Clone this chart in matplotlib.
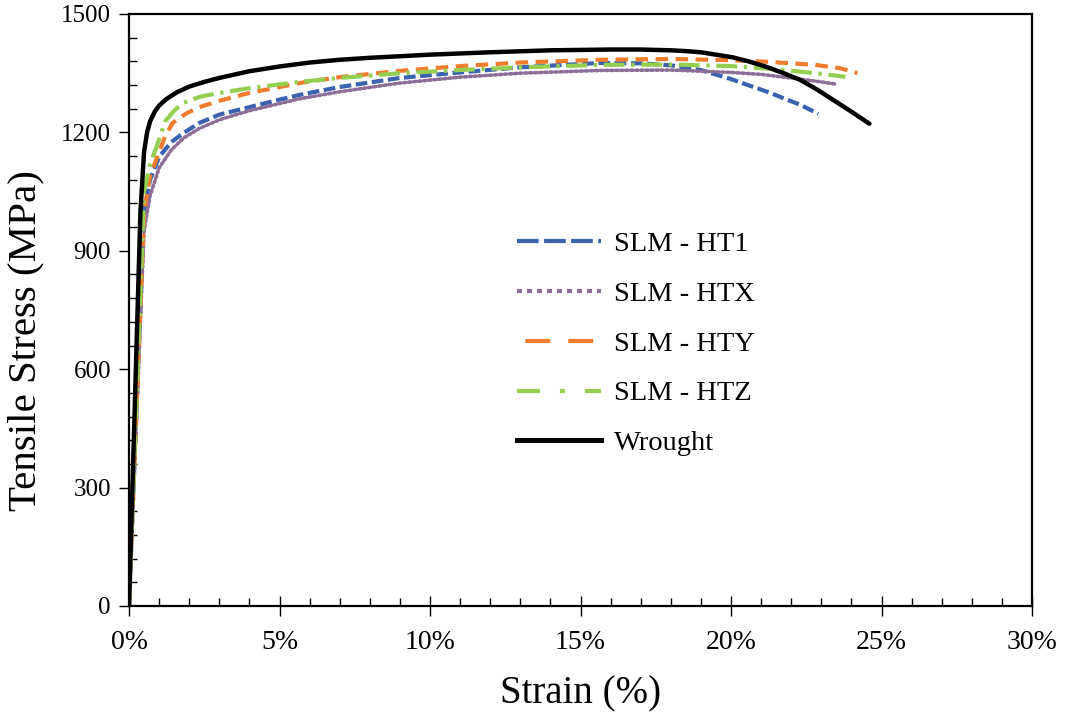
import matplotlib
matplotlib.use("Agg")
import matplotlib.pyplot as plt
from matplotlib.lines import Line2D
from matplotlib.ticker import MultipleLocator, FuncFormatter

plt.rcParams['font.family'] = ['Liberation Serif', 'DejaVu Serif']

# Engineering stress-strain curves: strain in %, stress in MPa
ht1_strain = [0, 0.5, 0.7, 1.0, 1.4, 1.8, 2.34, 3.0, 4.0, 5.0, 5.66, 7.0, 9.0, 11.0,
              13.0, 15.65, 17.0, 18.0, 19.0, 20.0, 21.2, 22.3, 22.9]
ht1_stress = [0, 1000, 1080, 1138, 1175, 1198, 1224, 1245, 1264, 1283, 1295, 1315, 1338, 1352,
              1365, 1376, 1375, 1370, 1358, 1335, 1303, 1270, 1247]

htx_strain = [0, 0.5, 0.7, 1.0, 1.4, 1.8, 2.34, 3.0, 4.0, 5.66, 7.0, 9.0, 11.0, 13.0,
              15.65, 18.0, 20.0, 21.0, 22.3, 23.0, 23.5]
htx_stress = [0, 950, 1040, 1110, 1155, 1185, 1210, 1232, 1255, 1285, 1303, 1325, 1340, 1350,
              1357, 1358, 1352, 1347, 1335, 1328, 1322]

hty_strain = [0, 0.5, 0.7, 0.9, 1.2, 1.45, 1.9, 2.34, 3.0, 4.0, 5.66, 7.0, 9.0, 11.0, 13.0,
              15.65, 18.0, 20.0, 21.2, 22.8, 23.6, 24.0, 24.2]
hty_stress = [0, 1000, 1090, 1130, 1190, 1224, 1248, 1264, 1280, 1300, 1325, 1340, 1356, 1368, 1377,
              1384, 1386, 1383, 1379, 1371, 1363, 1355, 1350]

htz_strain = [0, 0.5, 0.7, 0.9, 1.2, 1.5, 1.78, 2.34, 3.0, 4.0, 5.66, 7.0, 9.0, 11.0, 13.0,
              15.65, 18.0, 20.0, 21.5, 22.8, 23.8]
htz_stress = [0, 1050, 1120, 1160, 1228, 1255, 1274, 1290, 1300, 1312, 1328, 1338, 1350, 1358, 1365,
              1371, 1372, 1368, 1360, 1350, 1341]

wrought_strain = [0, 0.38, 0.5, 0.6, 0.7, 0.85, 1.0, 1.25, 1.6, 2.0, 2.5, 3.0, 4.0, 5.0, 6.0, 7.0,
                  8.0, 9.0, 10.0, 12.0, 14.0, 16.0, 17.0, 18.0, 18.5, 19.0, 19.5, 20.07, 20.63,
                  21.18, 21.75, 22.3, 22.85, 23.4, 23.95, 24.5, 24.6]
wrought_stress = [0, 1000, 1150, 1200, 1228, 1252, 1268, 1285, 1302, 1316, 1328, 1338, 1355, 1367,
                  1377, 1384, 1389, 1393, 1397, 1403, 1408, 1410, 1410, 1408, 1406, 1403, 1397,
                  1390, 1379, 1366, 1350, 1333, 1309, 1282, 1255, 1227, 1222]

labels = ['SLM - HT1', 'SLM - HTX', 'SLM - HTY', 'SLM - HTZ', 'Wrought']
colors = ['#3A62AE', '#8C6E96', '#F07D2E', '#94CF52', '#000000']

fig = plt.figure(figsize=(10.67, 7.13), dpi=100)
ax = fig.add_axes([129 / 1067, 1 - 606 / 713, (1032 - 129) / 1067, (606 - 14) / 713])

lw = 3.0
ax.plot(ht1_strain, ht1_stress, color=colors[0], lw=lw, linestyle=(0, (2.8, 1.1)))
ax.plot(htx_strain, htx_stress, color=colors[1], lw=2.6, linestyle=(0, (0.6, 0.8)),
        dash_capstyle='round')
ax.plot(hty_strain, hty_stress, color=colors[2], lw=lw, linestyle=(0, (3.0, 1.8)))
ax.plot(htz_strain, htz_stress, color=colors[3], lw=lw, linestyle=(0, (5.0, 1.6, 0.8, 1.6)))
ax.plot(wrought_strain, wrought_stress, color=colors[4], lw=3.2, solid_capstyle='round')

ax.set_xlim(0, 30)
ax.set_ylim(0, 1500)
ax.xaxis.set_major_locator(MultipleLocator(5))
ax.xaxis.set_minor_locator(MultipleLocator(1))
ax.yaxis.set_major_locator(MultipleLocator(300))
ax.yaxis.set_minor_locator(MultipleLocator(60))
ax.xaxis.set_major_formatter(FuncFormatter(lambda v, p: f"{v:.0f}%"))

for s in ax.spines.values():
    s.set_linewidth(1.6)
    s.set_color('black')

ax.tick_params(axis='x', which='major', direction='inout', length=14, width=1.0,
               labelsize=20, pad=10, top=False)
ax.tick_params(axis='x', which='minor', direction='in', length=6, width=1.0, top=False)
ax.tick_params(axis='y', which='major', direction='out', length=7, width=1.0,
               labelsize=18, pad=6, right=False)
ax.tick_params(axis='y', which='minor', direction='in', length=6, width=1.0, right=False)

ax.set_xlabel('Strain (%)', fontsize=28, labelpad=15)
ax.set_ylabel('Tensile Stress (MPa)', fontsize=29.5)
ax.yaxis.set_label_coords(-0.094, 0.449)

# Legend keys drawn with their own dash patterns
handles = [
    Line2D([], [], color=colors[0], lw=lw, linestyle=(0, (5.2, 1.3))),
    Line2D([], [], color=colors[1], lw=lw, linestyle=(0, (1.2, 1.2))),
    Line2D([], [], color=colors[2], lw=lw, linestyle=(-2.0, (6.0, 4.3))),
    Line2D([], [], color=colors[3], lw=lw, linestyle=(0, (5.5, 4.8, 1.2, 4.8))),
    Line2D([], [], color=colors[4], lw=3.6),
]
fig.legend(handles, labels, loc='upper left', bbox_to_anchor=(517 / 1067, 1 - 231 / 713),
           frameon=False, fontsize=20.5, handlelength=2.95, handletextpad=0.46,
           labelspacing=0.84, borderpad=0, borderaxespad=0)

fig.savefig('out.png', dpi=100)
